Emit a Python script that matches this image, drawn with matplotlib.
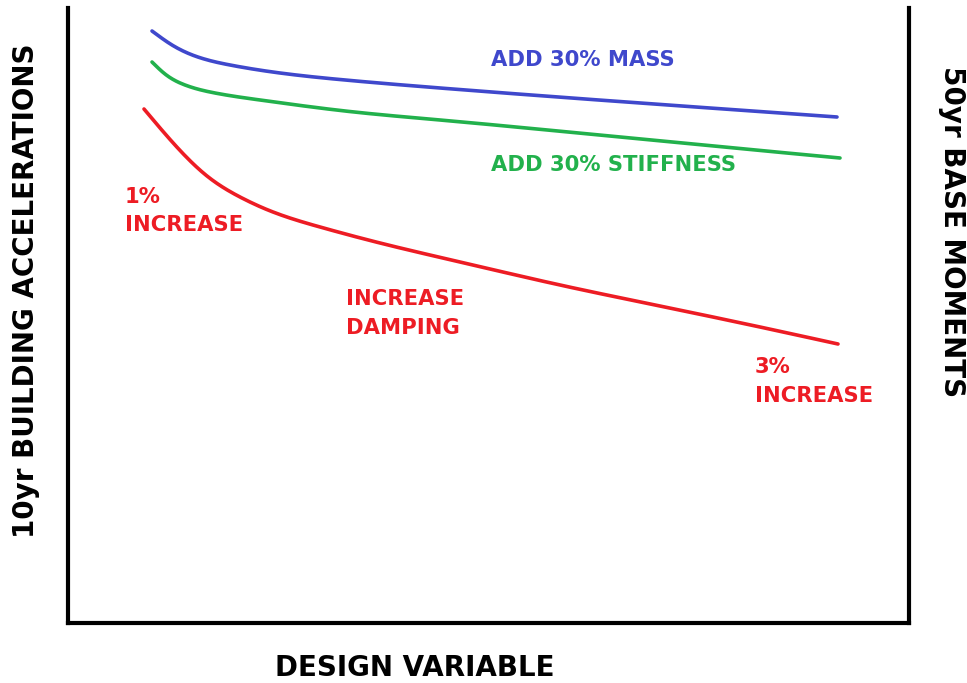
import matplotlib
matplotlib.use("Agg")
import matplotlib.pyplot as plt
import numpy as np

plt.rcParams['font.family'] = ['DejaVu Sans']

W, H = 967, 683

# Curves (x = design variable, y = response; pixel-like units)
mass_x = [152, 172, 195, 230, 280, 345, 440, 640, 837]
mass_y = [31, 45, 56, 65, 73, 80, 88, 103, 117]
stiff_x = [152, 165, 185, 215, 260, 345, 440, 640, 840]
stiff_y = [62, 74, 85, 93, 100, 111, 120, 139, 158]
damp_x = [144, 175, 207, 240, 273, 320, 380, 460, 560, 660, 760, 838]
damp_y = [109, 145, 176, 197, 212, 227, 243, 262, 285, 306, 327, 344]

BLUE = '#3F48CC'
GREEN = '#22B14C'
RED = '#ED1C24'

fig = plt.figure(figsize=(W / 100, H / 100), dpi=100)
L, R, T, B = 68, 909, 8, 623
ax = fig.add_axes([L / W, (H - B) / H, (R - L) / W, (B - T) / H])
ax.set_xlim(L, R)
ax.set_ylim(B, T)
ax.set_xticks([])
ax.set_yticks([])
ax.spines['top'].set_visible(False)
for s in ['left', 'bottom', 'right']:
    ax.spines[s].set_linewidth(3.0)
    ax.spines[s].set_color('black')


def spline(xs, ys, n=400):
    """Natural cubic spline through the read points."""
    x = np.asarray(xs, float)
    y = np.asarray(ys, float)
    k = len(x)
    h = np.diff(x)
    A = np.zeros((k, k))
    r = np.zeros(k)
    A[0, 0] = A[-1, -1] = 1.0
    for i in range(1, k - 1):
        A[i, i - 1] = h[i - 1]
        A[i, i] = 2 * (h[i - 1] + h[i])
        A[i, i + 1] = h[i]
        r[i] = 6 * ((y[i + 1] - y[i]) / h[i] - (y[i] - y[i - 1]) / h[i - 1])
    M = np.linalg.solve(A, r)
    t = np.linspace(x[0], x[-1], n)
    j = np.clip(np.searchsorted(x, t) - 1, 0, k - 2)
    a = x[j + 1] - t
    b = t - x[j]
    hj = h[j]
    yy = (M[j] * a**3 + M[j + 1] * b**3) / (6 * hj) \
        + (y[j] / hj - M[j] * hj / 6) * a + (y[j + 1] / hj - M[j + 1] * hj / 6) * b
    return t, yy


for xs, ys, c in [(mass_x, mass_y, BLUE), (stiff_x, stiff_y, GREEN), (damp_x, damp_y, RED)]:
    tx, ty = spline(xs, ys)
    ax.plot(tx, ty, color=c, lw=2.6, solid_capstyle='round', clip_on=False)

fs = 15.2
kw = dict(fontsize=fs, fontweight='bold', ha='left', va='center', clip_on=False)
ax.text(491, 60, 'ADD 30% MASS', color=BLUE, **kw)
ax.text(491, 165, 'ADD 30% STIFFNESS', color=GREEN, **kw)
ax.text(125, 197, '1%', color=RED, **kw)
ax.text(125, 225, 'INCREASE', color=RED, **kw)
ax.text(346, 299, 'INCREASE', color=RED, **kw)
ax.text(346, 328, 'DAMPING', color=RED, **kw)
ax.text(755, 367, '3%', color=RED, **kw)
ax.text(755, 396, 'INCREASE', color=RED, **kw)

lab = dict(fontsize=20, fontweight='bold', color='black', ha='center', va='center')
fig.text(415 / W, 1 - 668 / H, 'DESIGN VARIABLE', **lab)
fig.text(26 / W, 1 - 291 / H, '10yr BUILDING ACCELERATIONS', rotation=90, **lab)
fig.text(952 / W, 1 - 232 / H, '50yr BASE MOMENTS', rotation=270, **lab)

fig.savefig('out.png', dpi=100, facecolor='white')
